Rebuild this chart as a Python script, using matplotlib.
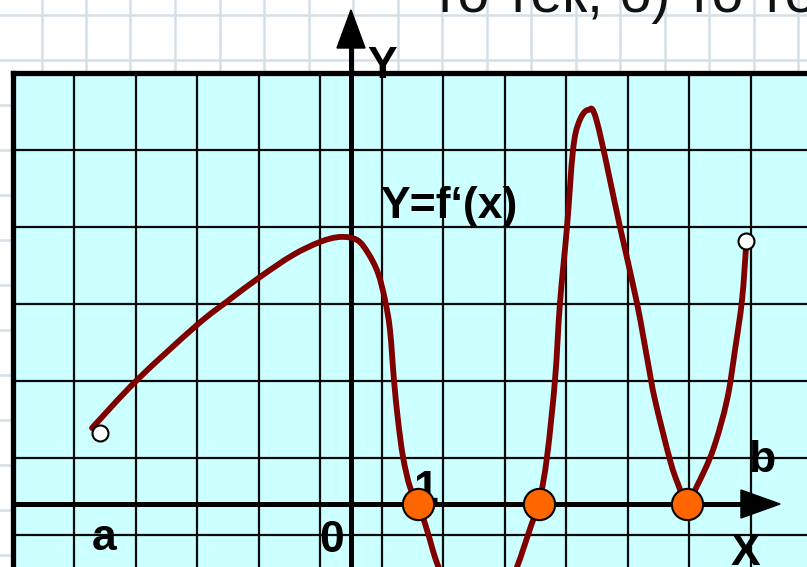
import numpy as np
import matplotlib
matplotlib.use('Agg')
import matplotlib.pyplot as plt
from matplotlib.patches import Polygon, Rectangle, PathPatch
from matplotlib.path import Path

# ---- data (chart units: 1 = one grid cell) ----
curve_x = [-4.211, -3.480, -2.504, -1.984, -1.480, -0.943, -0.504, -0.179, 0.098, 0.276,
           0.439, 0.553, 0.634, 0.699, 0.764, 0.846, 0.959, 1.089, 1.236, 1.398,
           1.610, 2.049, 2.504, 2.699, 2.943, 3.057, 3.187, 3.317, 3.398, 3.512,
           3.610, 3.707, 3.854, 4.000, 4.374, 4.650, 4.829,
           4.943, 5.187, 5.317, 5.463, 5.626, 5.886, 6.114, 6.244, 6.358, 6.423, 6.423]
curve_y = [0.987, 1.610, 2.325, 2.649, 2.948, 3.234, 3.403, 3.468, 3.429, 3.260,
           3.000, 2.649, 2.260, 1.610, 1.091, 0.610, 0.221, 0.013, -0.338, -0.766,
           -1.117, -1.442, -1.143, -0.818, -0.247, 0.000, 0.610, 1.610, 2.610, 3.597,
           4.597, 4.961, 5.117, 4.961, 3.597, 2.610, 1.831,
           1.351, 0.571, 0.260, 0.013, 0.234, 0.701, 1.351, 2.000, 2.649, 3.338, 3.416]
root_x = [1.089, 3.057, 5.463]
root_y = [0.0, 0.0, 0.0]
open_x = [-4.081, 6.423]
open_y = [0.922, 3.416]
func_label = "Y=f\u2018(x)"
top_text = "то тек, б) то тек"

# ---- figure ----
W, H = 807, 567
fig = plt.figure(figsize=(W / 100, H / 100), dpi=100)
ax = fig.add_axes([0, 0, 1, 1])
sx, sy = 61.5, 77.0
ox, oy = 351, 504
X0, X1 = -ox / sx, (W - ox) / sx
Y0, Y1 = (oy - H) / sy, oy / sy
ax.set_xlim(X0, X1)
ax.set_ylim(Y0, Y1)
ax.axis('off')

# paper grid
for k in range(-20, 20):
    gx = (442 - 44.5 * k - ox) / sx
    ax.plot([gx, gx], [Y0 - 1, Y1 + 1], color='#d3e0e7', lw=1.8, zorder=0)
    gy = (oy - 15 - 45 * k) / sy
    ax.plot([X0 - 1, X1 + 1], [gy, gy], color='#d3e0e7', lw=1.8, zorder=0)

frame_l, frame_t = -5.5, 5.6
ax.add_patch(Rectangle((frame_l, Y0 - 1), X1 + 2 - frame_l, frame_t - Y0 + 1,
                       facecolor='#ccffff', edgecolor='none', zorder=1))

# grid inside
for gx in np.arange(-4.5, 7.0, 1.0):
    ax.plot([gx, gx], [Y0 - 1, frame_t], color='#0a0a0a', lw=1.6, zorder=2)
for gy in np.arange(-0.4, 5.0, 1.0):
    ax.plot([frame_l, X1 + 1], [gy, gy], color='#0a0a0a', lw=1.6, zorder=2)

# frame
ax.plot([frame_l, frame_l], [Y0 - 1, frame_t], color='black', lw=3.8, zorder=3,
        solid_capstyle='projecting')
ax.plot([frame_l, X1 + 1], [frame_t, frame_t], color='black', lw=3.8, zorder=3,
        solid_capstyle='projecting')

# axes
ax.plot([0, 0], [Y0 - 1, 5.95], color='black', lw=3.6, zorder=3)
ax.add_patch(Polygon([(0, 6.416), (-0.228, 5.922), (0.228, 5.922)], closed=True,
                     facecolor='black', edgecolor='black', zorder=3))
ax.plot([frame_l, 6.4], [0, 0], color='black', lw=3.6, zorder=3)
ax.add_patch(Polygon([(6.976, 0), (6.341, 0.182), (6.341, -0.182)], closed=True,
                     facecolor='black', edgecolor='black', zorder=3))

# labels
fp = dict(family='Liberation Sans', fontweight='bold', fontsize=32, color='black')
ax.text(0.504, 5.53, 'Y', ha='center', va='baseline', zorder=8, **fp)
ax.text(0.472, 3.72, func_label, ha='left', va='baseline', zorder=8, **fp)
ax.text(1.22, 0.03, '1', ha='center', va='baseline', zorder=4, **fp)
ax.text(-0.309, -0.623, '0', ha='center', va='baseline', zorder=4, **fp)
ax.text(-4.016, -0.597, 'a', ha='center', va='baseline', zorder=4, **fp)
ax.text(6.68, 0.416, 'b', ha='center', va='baseline', zorder=4, **fp)
ax.text(6.42, -0.79, 'X', ha='center', va='baseline', zorder=4, **fp)

ax.text((432 - ox) / sx, (oy - 12) / sy, top_text, ha='left', va='baseline',
        family='Liberation Sans', fontsize=41, color='#111111', zorder=8)

# smooth curve through the read points (Catmull-Rom as cubic Bezier)
P = np.column_stack([curve_x, curve_y])
Pe = np.vstack([P[0], P, P[-1]])
verts = [P[0]]
codes = [Path.MOVETO]
for i in range(len(P) - 1):
    p0, p1, p2, p3 = Pe[i], Pe[i + 1], Pe[i + 2], Pe[i + 3]
    verts += [p1 + (p2 - p0) / 6.0, p2 - (p3 - p1) / 6.0, p2]
    codes += [Path.CURVE4] * 3
ax.add_patch(PathPatch(Path(verts, codes), fill=False, edgecolor='#800000', lw=4.2,
                       capstyle='round', joinstyle='round', zorder=5))

ax.plot(root_x, root_y, 'o', markersize=22.5, markerfacecolor='#ff6600',
        markeredgecolor='black', markeredgewidth=1.5, zorder=6)
ax.plot(open_x, open_y, 'o', markersize=11.5, markerfacecolor='white',
        markeredgecolor='black', markeredgewidth=1.5, zorder=6)

fig.savefig('out.png', dpi=100)
